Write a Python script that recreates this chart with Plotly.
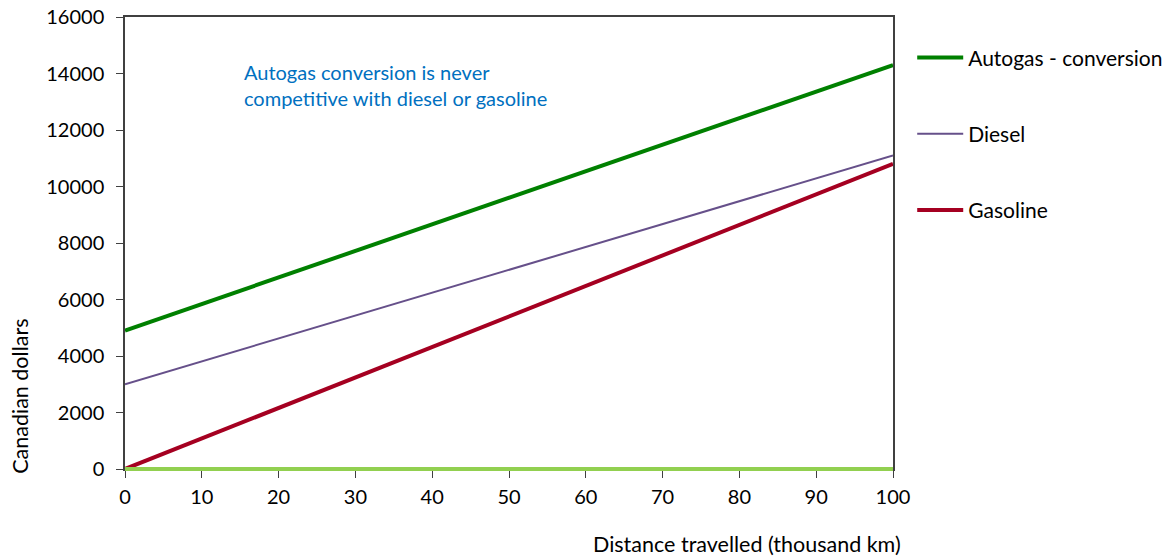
import plotly.graph_objects as go

# Distance travelled (thousand km) and cumulative cost (Canadian dollars)
distance = [0, 100]
autogas_conversion = [4900, 14300]
diesel = [3000, 11100]
gasoline = [0, 10800]
baseline = [0, 0]

x_ticks = list(range(0, 101, 10))
y_ticks = list(range(0, 16001, 2000))
y_range = [0, 16000]

FONT = "Lato"
SIZE = 20

fig = go.Figure()

fig.add_trace(go.Scatter(
    x=distance, y=autogas_conversion, mode="lines", name="Autogas - conversion",
    line=dict(color="#008000", width=4), legendgroup="a",
))
fig.add_trace(go.Scatter(
    x=distance, y=diesel, mode="lines", name="Diesel",
    line=dict(color="#66508A", width=2), legendgroup="b",
))
fig.add_trace(go.Scatter(
    x=distance, y=gasoline, mode="lines", name="Gasoline",
    line=dict(color="#A50021", width=4), legendgroup="c",
))

# Zero baseline lies on the x axis; a paper-referenced shape keeps it from
# being clipped in half by the plot area
def to_paper(v):
    return (v - y_range[0]) / (y_range[1] - y_range[0])

fig.add_shape(
    type="line", xref="x", yref="paper",
    x0=distance[0], x1=distance[-1], y0=to_paper(baseline[0]), y1=to_paper(baseline[-1]),
    line=dict(color="#92D050", width=4), layer="above",
)

fig.add_annotation(
    text="Autogas conversion is never", x=0.152, y=0.878, xref="paper", yref="paper",
    xanchor="left", yanchor="middle", showarrow=False,
    font=dict(family=FONT, size=SIZE, color="#0070C0"),
)
fig.add_annotation(
    text="competitive with diesel or gasoline", x=0.152, y=0.8208, xref="paper", yref="paper",
    xanchor="left", yanchor="middle", showarrow=False,
    font=dict(family=FONT, size=SIZE, color="#0070C0"),
)
fig.add_annotation(
    text="Distance travelled (thousand km)", x=1.0125, y=-0.165, xref="paper", yref="paper",
    xanchor="right", yanchor="middle", showarrow=False,
    font=dict(family=FONT, size=21.5, color="#000000"),
)
fig.add_annotation(
    text="Canadian dollars", x=-0.137, y=0.1615, xref="paper", yref="paper",
    xanchor="center", yanchor="middle", textangle=-90, showarrow=False,
    font=dict(family=FONT, size=21.5, color="#000000"),
)

fig.update_layout(
    width=1168, height=558,
    margin=dict(l=125, r=275, t=17, b=89, autoexpand=False),
    paper_bgcolor="white", plot_bgcolor="white",
    font=dict(family=FONT, size=SIZE, color="#000000"),
    showlegend=True,
    legend=dict(
        xref="container", yref="container",
        x=0.781, y=0.9332, xanchor="left", yanchor="top",
        font=dict(family=FONT, size=21, color="#000000"),
        tracegroupgap=46, itemwidth=46, bgcolor="rgba(0,0,0,0)",
    ),
    xaxis=dict(
        range=[0, 100], tickvals=x_ticks, ticktext=[str(v) for v in x_ticks],
        showgrid=False, zeroline=False, showline=True, mirror=True,
        linecolor="#404040", linewidth=1.5, ticks="outside", ticklen=7,
        tickcolor="#404040", tickfont=dict(size=SIZE), layer="below traces",
        automargin=False, ticklabelstandoff=2,
    ),
    yaxis=dict(
        range=y_range, tickvals=y_ticks, ticktext=[str(v) for v in y_ticks],
        showgrid=False, zeroline=False, showline=True, mirror=True,
        linecolor="#404040", linewidth=1.5, ticks="outside", ticklen=7,
        tickcolor="#404040", tickfont=dict(size=SIZE), layer="below traces",
        automargin=False, ticklabelstandoff=8,
    ),
)

fig.write_html("out.html")
